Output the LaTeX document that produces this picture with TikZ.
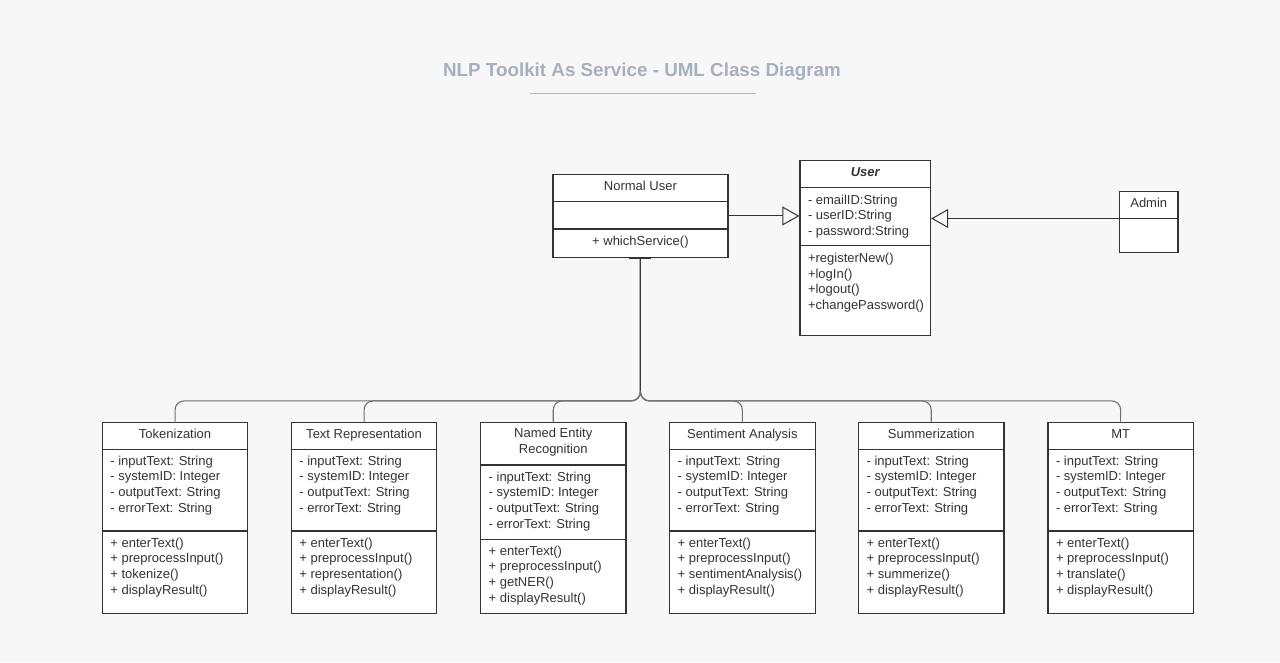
\documentclass[tikz,border=0pt]{standalone}
\usepackage{fontspec}
\setmainfont{Liberation Sans}
\usetikzlibrary{calc,arrows.meta}
\definecolor{bg}{HTML}{F7F7F7}
\definecolor{ink}{HTML}{333333}
\definecolor{titlec}{HTML}{A8AFBD}
\definecolor{rulec}{HTML}{B3BBCB}
\definecolor{wire}{HTML}{707070}
\tikzset{
  classbox/.style={draw=ink, fill=white, line width=1.2pt, inner sep=0pt, anchor=north west},
  sepline/.style={draw=ink, line width=1.2pt},
  member/.style={inner sep=0pt, anchor=base west, text=ink, font=\fontsize{13}{15.67}\selectfont},
  ctitle/.style={inner sep=0pt, anchor=base, text=ink, font=\fontsize{13}{15.67}\selectfont},
  wireline/.style={draw=wire, line width=1.1pt, rounded corners=9pt},
  genarrow/.style={draw=ink, line width=1pt, -{Triangle[open, length=17pt, width=19pt, fill=bg]}}
}
\newcommand\umlsep[2]{\draw[sepline] ($(#1.north west)+(0,#2)$) -- ($(#1.north east)+(0,#2)$);}
\newcommand\umllist[4]{%
  \foreach \mtext [count=\i] in {#4} {\node[member] (#2\i) at ($(#1.north west)+(8.5,{#3+(\i-1)*15.67})$) {\mtext};}}
\newcommand\nlpclass[6]{% #1 name, #2 x, #3 title, #4 attr-prefix, #5 method-prefix, #6 methods
  \node[classbox, minimum width=145.5pt, minimum height=191pt] (#1) at (#2,421.7) {};
  \umlsep{#1}{27.6}
  \umlsep{#1}{109.3}
  \node[ctitle] (#1T) at ($(#1.north)+(0,17)$) {#3};
  \umllist{#1}{#4}{43.5}{- inputText: String,- systemID: Integer,- outputText: String,- errorText: String}
  \umllist{#1}{#5}{125.5}{#6}
}
\begin{document}
\begin{tikzpicture}[x=1pt,y=-1pt]
\fill[bg] (0,0) rectangle (1280,662);
\useasboundingbox (0,0) rectangle (1280,662);

% title
\node[inner sep=0pt, anchor=base, text=titlec, font=\fontsize{18.8}{22}\selectfont\bfseries] (title) at (642,76.8) {NLP Toolkit As Service - UML Class Diagram};
\draw[rulec, line width=1.2pt] ($(title.base)+(-112,16.5)$) coordinate (rl) -- ($(title.base)+(114,16.5)$) coordinate (rr);

% Normal User
\node[classbox, minimum width=175pt, minimum height=82.7pt] (nu) at (552.3,174) {};
\umlsep{nu}{27.7}
\umlsep{nu}{55}
\node[ctitle] (nuT) at ($(nu.north)+(0,16.5)$) {Normal User};
\node[ctitle] (nuM) at ($(nu.north)+(0,71.5)$) {+ whichService()};

% User
\node[classbox, minimum width=130.7pt, minimum height=175pt] (user) at (799.3,160) {};
\umlsep{user}{27.3}
\umlsep{user}{85.7}
\node[ctitle, font=\fontsize{13}{15.67}\selectfont\bfseries\itshape] (userT) at ($(user.north)+(0,16.5)$) {User};
\umllist{user}{userA}{44}{- emailID:String,- userID:String,- password:String}
\umllist{user}{userM}{102.5}{+registerNew(),+logIn(),+logout(),+changePassword()}

% Admin
\node[classbox, minimum width=58.3pt, minimum height=60.7pt] (admin) at (1119,191) {};
\umlsep{admin}{27.7}
\node[ctitle] (adminT) at ($(admin.north)+(0,16.8)$) {Admin};

% service classes
\nlpclass{tok}{101.7}{Tokenization}{tokA}{tokM}{+ enterText(),+ preprocessInput(),+ tokenize(),+ displayResult()}
\nlpclass{trep}{290.7}{Text Representation}{trepA}{trepM}{+ enterText(),+ preprocessInput(),+ representation(),+ displayResult()}
\nlpclass{sent}{669}{Sentiment Analysis}{sentA}{sentM}{+ enterText(),+ preprocessInput(),+ sentimentAnalysis(),+ displayResult()}
\nlpclass{summ}{857.9}{Summerization}{summA}{summM}{+ enterText(),+ preprocessInput(),+ summerize(),+ displayResult()}
\nlpclass{mt}{1047.3}{MT}{mtA}{mtM}{+ enterText(),+ preprocessInput(),+ translate(),+ displayResult()}

% NER (two-line title)
\node[classbox, minimum width=145.3pt, minimum height=191pt] (ner) at (480,421.7) {};
\umlsep{ner}{43.3}
\umlsep{ner}{117.6}
\node[ctitle] (nerT1) at ($(ner.north)+(0,16)$) {Named Entity};
\node[ctitle] (nerT2) at ($(ner.north)+(0,31.8)$) {Recognition};
\umllist{ner}{nerA}{59.3}{- inputText: String,- systemID: Integer,- outputText: String,- errorText: String}
\umllist{ner}{nerM}{133.6}{+ enterText(),+ preprocessInput(),+ getNER(),+ displayResult()}

% tree from Normal User to services
\foreach \b in {tok,trep,ner,sent,summ,mt} {
  \draw[wireline] (nu.south) -- ++(0,143) -| (\b.north);
}
\draw[draw=ink!90!wire, line width=1.2pt] (nu.south) -- ++(0,133);
\draw[ink, line width=2.2pt] ($(nu.south)+(-11,0)$) -- ($(nu.south)+(11,0)$);

% generalizations
\draw[genarrow] (nu.east) -- (nu.east -| user.west);
\coordinate (adminport) at ($(admin.north west)+(0,27.5)$);
\draw[genarrow] (adminport) -- (adminport -| user.east);
\end{tikzpicture}
\end{document}
